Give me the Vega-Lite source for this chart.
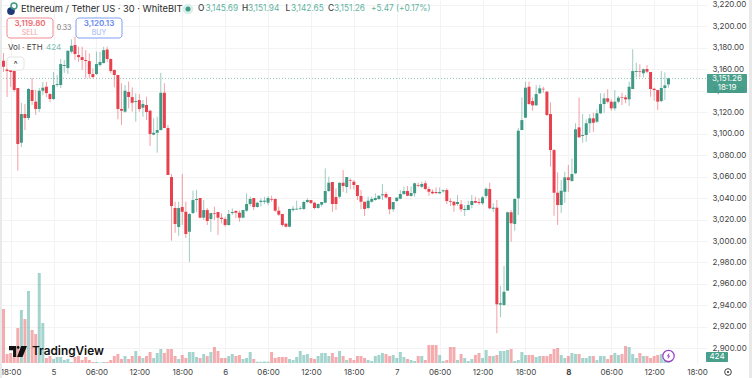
{"$schema":"https://vega.github.io/schema/vega-lite/v6.json","width":707,"height":363,"autosize":{"type":"none"},"padding":{"left":0,"top":0,"right":45,"bottom":15},"background":"white","config":{"view":{"stroke":null},"font":"Inter","text":{"font":"Inter"},"scale":{"continuousPadding":0}},
"datasets":{"ohlcv":[
{"t":"2025-11-04T17:00Z","o":3167.7,"h":3174.9,"l":3157.2,"c":3162.1,"v":5400},
{"t":"2025-11-04T17:30Z","o":3159.5,"h":3168.4,"l":3134,"c":3158.1,"v":900},
{"t":"2025-11-04T18:00Z","o":3159.1,"h":3160.9,"l":3143.2,"c":3157.2,"v":1000},
{"t":"2025-11-04T18:30Z","o":3158.1,"h":3160,"l":3139,"c":3140.5,"v":600},
{"t":"2025-11-04T19:00Z","o":3142.3,"h":3142.5,"l":3065.4,"c":3090.2,"v":3500},
{"t":"2025-11-04T19:30Z","o":3091.4,"h":3128.4,"l":3087.4,"c":3118.1,"v":5300},
{"t":"2025-11-04T20:00Z","o":3118.1,"h":3127.4,"l":3103.2,"c":3114.4,"v":4400},
{"t":"2025-11-04T20:30Z","o":3114.4,"h":3142.3,"l":3112.5,"c":3141.4,"v":7200},
{"t":"2025-11-04T21:00Z","o":3140.5,"h":3151.6,"l":3126.5,"c":3130.2,"v":3300},
{"t":"2025-11-04T21:30Z","o":3129.6,"h":3140.5,"l":3117.2,"c":3122.8,"v":2900},
{"t":"2025-11-04T22:00Z","o":3122.8,"h":3142.3,"l":3120,"c":3139.8,"v":9000},
{"t":"2025-11-04T22:30Z","o":3139.8,"h":3147.9,"l":3135.8,"c":3142.6,"v":4000},
{"t":"2025-11-04T23:00Z","o":3143.5,"h":3147.9,"l":3133.9,"c":3137.6,"v":500},
{"t":"2025-11-04T23:30Z","o":3136.7,"h":3137.6,"l":3129.3,"c":3132.1,"v":700},
{"t":"2025-11-05T00:00Z","o":3132.1,"h":3157.2,"l":3131.1,"c":3145.1,"v":400},
{"t":"2025-11-05T00:30Z","o":3145.1,"h":3154.4,"l":3143.2,"c":3146,"v":600},
{"t":"2025-11-05T01:00Z","o":3145.1,"h":3169.3,"l":3142.3,"c":3164.6,"v":600},
{"t":"2025-11-05T01:30Z","o":3162.8,"h":3168.4,"l":3156.3,"c":3163.7,"v":300},
{"t":"2025-11-05T02:00Z","o":3160.9,"h":3177,"l":3155.3,"c":3177,"v":400},
{"t":"2025-11-05T02:30Z","o":3176.1,"h":3187.6,"l":3174.6,"c":3181.6,"v":100},
{"t":"2025-11-05T03:00Z","o":3182.3,"h":3190,"l":3168.4,"c":3173.9,"v":600},
{"t":"2025-11-05T03:30Z","o":3173,"h":3180.7,"l":3166.7,"c":3171.1,"v":700},
{"t":"2025-11-05T04:00Z","o":3171.1,"h":3180.7,"l":3159.1,"c":3168.4,"v":300},
{"t":"2025-11-05T04:30Z","o":3168.4,"h":3177.6,"l":3151.3,"c":3167.4,"v":600},
{"t":"2025-11-05T05:00Z","o":3167.4,"h":3174.6,"l":3151.3,"c":3155.3,"v":300},
{"t":"2025-11-05T05:30Z","o":3155.3,"h":3160.6,"l":3151.3,"c":3152.5,"v":100},
{"t":"2025-11-05T06:00Z","o":3155.3,"h":3176.1,"l":3154.4,"c":3164.6,"v":100},
{"t":"2025-11-05T06:30Z","o":3163.7,"h":3176.1,"l":3162.1,"c":3166.5,"v":50},
{"t":"2025-11-05T07:00Z","o":3165.5,"h":3180.7,"l":3165.3,"c":3177.6,"v":100},
{"t":"2025-11-05T07:30Z","o":3178.1,"h":3180.7,"l":3166.7,"c":3169.3,"v":100},
{"t":"2025-11-05T08:00Z","o":3169.3,"h":3170,"l":3156,"c":3158.1,"v":300},
{"t":"2025-11-05T08:30Z","o":3159.1,"h":3159.7,"l":3142.9,"c":3154.4,"v":700},
{"t":"2025-11-05T09:00Z","o":3154.4,"h":3154.5,"l":3113.2,"c":3122.8,"v":900},
{"t":"2025-11-05T09:30Z","o":3122.8,"h":3146.7,"l":3107.9,"c":3121.2,"v":400},
{"t":"2025-11-05T10:00Z","o":3120.3,"h":3145.1,"l":3119.3,"c":3139.8,"v":700},
{"t":"2025-11-05T10:30Z","o":3138.6,"h":3148.2,"l":3123.4,"c":3133.9,"v":400},
{"t":"2025-11-05T11:00Z","o":3133.9,"h":3142.9,"l":3120.3,"c":3128.6,"v":700},
{"t":"2025-11-05T11:30Z","o":3129.3,"h":3137.4,"l":3111,"c":3130.2,"v":1200},
{"t":"2025-11-05T12:00Z","o":3131.1,"h":3136.7,"l":3120.3,"c":3122.8,"v":700},
{"t":"2025-11-05T12:30Z","o":3124,"h":3131.1,"l":3115.6,"c":3127.4,"v":500},
{"t":"2025-11-05T13:00Z","o":3126.5,"h":3134.2,"l":3112.5,"c":3120,"v":700},
{"t":"2025-11-05T13:30Z","o":3121.2,"h":3122,"l":3088.4,"c":3099.5,"v":1100},
{"t":"2025-11-05T14:00Z","o":3098.9,"h":3114.1,"l":3098.4,"c":3100.7,"v":500},
{"t":"2025-11-05T14:30Z","o":3100.7,"h":3115.6,"l":3082.1,"c":3103.2,"v":1000},
{"t":"2025-11-05T15:00Z","o":3103.2,"h":3156.5,"l":3103,"c":3137.9,"v":1400},
{"t":"2025-11-05T15:30Z","o":3137.9,"h":3146.7,"l":3105,"c":3105.1,"v":1000},
{"t":"2025-11-05T16:00Z","o":3105.1,"h":3107.9,"l":3061.4,"c":3061.4,"v":1400},
{"t":"2025-11-05T16:30Z","o":3059.5,"h":3062.3,"l":3000.3,"c":3032.5,"v":1400},
{"t":"2025-11-05T17:00Z","o":3030.7,"h":3036.5,"l":3007.7,"c":3015.8,"v":700},
{"t":"2025-11-05T17:30Z","o":3013,"h":3036.5,"l":3004.7,"c":3030.7,"v":400},
{"t":"2025-11-05T18:00Z","o":3031.6,"h":3062.3,"l":3014.9,"c":3027.2,"v":800},
{"t":"2025-11-05T18:30Z","o":3027.2,"h":3036.5,"l":3002.8,"c":3006.5,"v":500},
{"t":"2025-11-05T19:00Z","o":3008.6,"h":3026,"l":2980.7,"c":3025.1,"v":1100},
{"t":"2025-11-05T19:30Z","o":3026,"h":3046.8,"l":3025.1,"c":3038.1,"v":1100},
{"t":"2025-11-05T20:00Z","o":3038.1,"h":3047.4,"l":3027,"c":3039.1,"v":600},
{"t":"2025-11-05T20:30Z","o":3040,"h":3040,"l":3021.1,"c":3021.7,"v":500},
{"t":"2025-11-05T21:00Z","o":3021.7,"h":3038.1,"l":3019.5,"c":3028.8,"v":900},
{"t":"2025-11-05T21:30Z","o":3028.8,"h":3030.7,"l":3014.9,"c":3018.6,"v":700},
{"t":"2025-11-05T22:00Z","o":3020.5,"h":3026.3,"l":3008.6,"c":3026,"v":1100},
{"t":"2025-11-05T22:30Z","o":3026,"h":3031.9,"l":3019.5,"c":3025.4,"v":1600},
{"t":"2025-11-05T23:00Z","o":3027,"h":3027,"l":3005.6,"c":3021.7,"v":1200},
{"t":"2025-11-05T23:30Z","o":3021.7,"h":3025.8,"l":3016.5,"c":3020.5,"v":500},
{"t":"2025-11-06T00:00Z","o":3020.5,"h":3022.6,"l":3013.3,"c":3014.9,"v":500},
{"t":"2025-11-06T00:30Z","o":3014.9,"h":3028.8,"l":3014.2,"c":3025.1,"v":700},
{"t":"2025-11-06T01:00Z","o":3026,"h":3030.4,"l":3024.2,"c":3027,"v":900},
{"t":"2025-11-06T01:30Z","o":3027.9,"h":3028.8,"l":3021.1,"c":3026.3,"v":700},
{"t":"2025-11-06T02:00Z","o":3026.3,"h":3028.2,"l":3018,"c":3021.7,"v":800},
{"t":"2025-11-06T02:30Z","o":3021.7,"h":3028.8,"l":3021.1,"c":3028.8,"v":400},
{"t":"2025-11-06T03:00Z","o":3028.2,"h":3044.4,"l":3027.2,"c":3034.4,"v":500},
{"t":"2025-11-06T03:30Z","o":3034.4,"h":3041.2,"l":3032.6,"c":3039.1,"v":1100},
{"t":"2025-11-06T04:00Z","o":3040,"h":3040,"l":3028.8,"c":3031.6,"v":400},
{"t":"2025-11-06T04:30Z","o":3031.6,"h":3036.5,"l":3031,"c":3035.6,"v":130},
{"t":"2025-11-06T05:00Z","o":3036.3,"h":3039.7,"l":3031.9,"c":3037.5,"v":130},
{"t":"2025-11-06T05:30Z","o":3036.5,"h":3041.2,"l":3034.4,"c":3037.5,"v":150},
{"t":"2025-11-06T06:00Z","o":3035.6,"h":3041.9,"l":3033.5,"c":3040,"v":130},
{"t":"2025-11-06T06:30Z","o":3039.1,"h":3042.1,"l":3036.5,"c":3038.4,"v":1100},
{"t":"2025-11-06T07:00Z","o":3039.1,"h":3039.7,"l":3027.2,"c":3028.2,"v":500},
{"t":"2025-11-06T07:30Z","o":3028.2,"h":3031.9,"l":3023.3,"c":3024.5,"v":600},
{"t":"2025-11-06T08:00Z","o":3025.1,"h":3025.1,"l":3013.3,"c":3014.9,"v":600},
{"t":"2025-11-06T08:30Z","o":3016.1,"h":3016.5,"l":3012.7,"c":3013.3,"v":600},
{"t":"2025-11-06T09:00Z","o":3013.3,"h":3030,"l":3012.7,"c":3029.8,"v":400},
{"t":"2025-11-06T09:30Z","o":3028.8,"h":3032.6,"l":3027.2,"c":3030,"v":300},
{"t":"2025-11-06T10:00Z","o":3029.3,"h":3037.5,"l":3028.8,"c":3030,"v":600},
{"t":"2025-11-06T10:30Z","o":3029.8,"h":3032.6,"l":3028.8,"c":3030.4,"v":1200},
{"t":"2025-11-06T11:00Z","o":3029.8,"h":3037.5,"l":3028.8,"c":3036.3,"v":800},
{"t":"2025-11-06T11:30Z","o":3036.3,"h":3039.7,"l":3035.1,"c":3038.1,"v":900},
{"t":"2025-11-06T12:00Z","o":3038.1,"h":3038.1,"l":3034.4,"c":3035.3,"v":500},
{"t":"2025-11-06T12:30Z","o":3035.6,"h":3036.5,"l":3029.5,"c":3030.7,"v":400},
{"t":"2025-11-06T13:00Z","o":3030.7,"h":3035.1,"l":3030,"c":3034.4,"v":700},
{"t":"2025-11-06T13:30Z","o":3033.8,"h":3036.3,"l":3031.9,"c":3036.3,"v":1000},
{"t":"2025-11-06T14:00Z","o":3035.6,"h":3067.6,"l":3035.1,"c":3046.5,"v":1000},
{"t":"2025-11-06T14:30Z","o":3046.5,"h":3059.8,"l":3045.6,"c":3054.2,"v":700},
{"t":"2025-11-06T15:00Z","o":3054.9,"h":3054.9,"l":3027.2,"c":3034.4,"v":1000},
{"t":"2025-11-06T15:30Z","o":3040.9,"h":3049,"l":3028.8,"c":3034.4,"v":600},
{"t":"2025-11-06T16:00Z","o":3041.2,"h":3054.2,"l":3039.7,"c":3054.2,"v":1200},
{"t":"2025-11-06T16:30Z","o":3054.2,"h":3066,"l":3045.8,"c":3051.2,"v":700},
{"t":"2025-11-06T17:00Z","o":3050.2,"h":3059.5,"l":3044.6,"c":3059.5,"v":300},
{"t":"2025-11-06T17:30Z","o":3056.7,"h":3058.3,"l":3048,"c":3056.1,"v":500},
{"t":"2025-11-06T18:00Z","o":3055.1,"h":3056.7,"l":3048,"c":3052.1,"v":300},
{"t":"2025-11-06T18:30Z","o":3052.1,"h":3052.1,"l":3038.1,"c":3041.9,"v":700},
{"t":"2025-11-06T19:00Z","o":3041.9,"h":3047.4,"l":3029.5,"c":3036.5,"v":700},
{"t":"2025-11-06T19:30Z","o":3036.5,"h":3036.5,"l":3023.3,"c":3029.8,"v":500},
{"t":"2025-11-06T20:00Z","o":3030.7,"h":3041.2,"l":3029.5,"c":3037.5,"v":300},
{"t":"2025-11-06T20:30Z","o":3036.5,"h":3041.2,"l":3035.6,"c":3039.1,"v":200},
{"t":"2025-11-06T21:00Z","o":3038.1,"h":3044.4,"l":3037.5,"c":3040,"v":700},
{"t":"2025-11-06T21:30Z","o":3039.1,"h":3042.3,"l":3038.1,"c":3042.1,"v":800},
{"t":"2025-11-06T22:00Z","o":3042.5,"h":3053,"l":3038.1,"c":3043.4,"v":1000},
{"t":"2025-11-06T22:30Z","o":3043.7,"h":3045.8,"l":3039.7,"c":3040.6,"v":900},
{"t":"2025-11-06T23:00Z","o":3040.9,"h":3040.9,"l":3024.8,"c":3029.5,"v":700},
{"t":"2025-11-06T23:30Z","o":3029.5,"h":3036.3,"l":3027.2,"c":3036.3,"v":800},
{"t":"2025-11-07T00:00Z","o":3037.2,"h":3040.9,"l":3036.3,"c":3040.3,"v":500},
{"t":"2025-11-07T00:30Z","o":3039.3,"h":3047.4,"l":3038.8,"c":3043.7,"v":1100},
{"t":"2025-11-07T01:00Z","o":3043.7,"h":3050.5,"l":3042.8,"c":3046.5,"v":600},
{"t":"2025-11-07T01:30Z","o":3046.5,"h":3051.2,"l":3041.6,"c":3042.1,"v":400},
{"t":"2025-11-07T02:00Z","o":3041.9,"h":3050.5,"l":3041.2,"c":3044.6,"v":300},
{"t":"2025-11-07T02:30Z","o":3044.4,"h":3054.2,"l":3041.2,"c":3053.7,"v":200},
{"t":"2025-11-07T03:00Z","o":3052.1,"h":3054.2,"l":3049.9,"c":3051.4,"v":700},
{"t":"2025-11-07T03:30Z","o":3050.5,"h":3055.1,"l":3049,"c":3053,"v":700},
{"t":"2025-11-07T04:00Z","o":3053.7,"h":3056.1,"l":3047.4,"c":3048.4,"v":300},
{"t":"2025-11-07T04:30Z","o":3048.4,"h":3050.5,"l":3042.1,"c":3045.8,"v":1800},
{"t":"2025-11-07T05:00Z","o":3045.8,"h":3048,"l":3043.4,"c":3044.4,"v":1800},
{"t":"2025-11-07T05:30Z","o":3045.6,"h":3049.9,"l":3043.7,"c":3044.6,"v":1800},
{"t":"2025-11-07T06:00Z","o":3044.4,"h":3049.9,"l":3043.7,"c":3045.6,"v":800},
{"t":"2025-11-07T06:30Z","o":3046.2,"h":3048,"l":3044.9,"c":3047.2,"v":200},
{"t":"2025-11-07T07:00Z","o":3047.4,"h":3049,"l":3034.4,"c":3037.2,"v":300},
{"t":"2025-11-07T07:30Z","o":3037.2,"h":3039.7,"l":3032.6,"c":3036.5,"v":1600},
{"t":"2025-11-07T08:00Z","o":3036.5,"h":3037.2,"l":3027.2,"c":3033.2,"v":1600},
{"t":"2025-11-07T08:30Z","o":3034.4,"h":3042.8,"l":3032.6,"c":3036.3,"v":300},
{"t":"2025-11-07T09:00Z","o":3034.1,"h":3038.1,"l":3027.2,"c":3029.5,"v":900},
{"t":"2025-11-07T09:30Z","o":3028.8,"h":3033.5,"l":3023.3,"c":3029.8,"v":500},
{"t":"2025-11-07T10:00Z","o":3028.8,"h":3037.5,"l":3028.8,"c":3033.5,"v":200},
{"t":"2025-11-07T10:30Z","o":3033.5,"h":3042.8,"l":3030.4,"c":3037.2,"v":400},
{"t":"2025-11-07T11:00Z","o":3037.2,"h":3041.2,"l":3035.1,"c":3035.6,"v":800},
{"t":"2025-11-07T11:30Z","o":3036.3,"h":3039.7,"l":3033.5,"c":3035.3,"v":1000},
{"t":"2025-11-07T12:00Z","o":3035.1,"h":3041.9,"l":3033.5,"c":3040.6,"v":500},
{"t":"2025-11-07T12:30Z","o":3041.9,"h":3049.9,"l":3039.7,"c":3048.6,"v":1300},
{"t":"2025-11-07T13:00Z","o":3048.4,"h":3054.2,"l":3029.5,"c":3030.4,"v":700},
{"t":"2025-11-07T13:30Z","o":3030,"h":3035.1,"l":3027.2,"c":3031,"v":700},
{"t":"2025-11-07T14:00Z","o":3031,"h":3038.1,"l":2914.2,"c":2941.1,"v":800},
{"t":"2025-11-07T14:30Z","o":2940.8,"h":2958.2,"l":2929,"c":2942.1,"v":1200},
{"t":"2025-11-07T15:00Z","o":2940.5,"h":2976.8,"l":2939.5,"c":2952.8,"v":1200},
{"t":"2025-11-07T15:30Z","o":2953.8,"h":3027.2,"l":2953.8,"c":3026.7,"v":1300},
{"t":"2025-11-07T16:00Z","o":3026.7,"h":3028.8,"l":2999.3,"c":3016.5,"v":1400},
{"t":"2025-11-07T16:30Z","o":3015.8,"h":3040,"l":3009.6,"c":3039.1,"v":200},
{"t":"2025-11-07T17:00Z","o":3039.7,"h":3105.1,"l":3024.2,"c":3102.6,"v":300},
{"t":"2025-11-07T17:30Z","o":3103.2,"h":3133.6,"l":3103.2,"c":3112.5,"v":1100},
{"t":"2025-11-07T18:00Z","o":3114.7,"h":3148.2,"l":3114.4,"c":3142.6,"v":800},
{"t":"2025-11-07T18:30Z","o":3143.5,"h":3148.2,"l":3126.8,"c":3127.4,"v":800},
{"t":"2025-11-07T19:00Z","o":3130.2,"h":3133.6,"l":3121.2,"c":3126.2,"v":800},
{"t":"2025-11-07T19:30Z","o":3126.2,"h":3145.1,"l":3125.8,"c":3136.7,"v":600},
{"t":"2025-11-07T20:00Z","o":3137.4,"h":3145.1,"l":3136.7,"c":3142,"v":700},
{"t":"2025-11-07T20:30Z","o":3141.6,"h":3143.5,"l":3137.9,"c":3141.1,"v":700},
{"t":"2025-11-07T21:00Z","o":3138.9,"h":3139.5,"l":3116.3,"c":3117.2,"v":700},
{"t":"2025-11-07T21:30Z","o":3118.1,"h":3129,"l":3069.1,"c":3084.6,"v":900},
{"t":"2025-11-07T22:00Z","o":3084.6,"h":3085.6,"l":3023.5,"c":3044.9,"v":1400},
{"t":"2025-11-07T22:30Z","o":3044.9,"h":3063.9,"l":3014.9,"c":3033.5,"v":1500},
{"t":"2025-11-07T23:00Z","o":3033.5,"h":3056.7,"l":3026,"c":3046.8,"v":800},
{"t":"2025-11-07T23:30Z","o":3045.8,"h":3064.4,"l":3035.3,"c":3059.2,"v":500},
{"t":"2025-11-08T00:00Z","o":3059.2,"h":3070.7,"l":3045.8,"c":3056.7,"v":700},
{"t":"2025-11-08T00:30Z","o":3055.8,"h":3076.9,"l":3055.1,"c":3062.3,"v":1000},
{"t":"2025-11-08T01:00Z","o":3063,"h":3109.5,"l":3062,"c":3103.9,"v":900},
{"t":"2025-11-08T01:30Z","o":3105.7,"h":3133.6,"l":3096.4,"c":3096.4,"v":900},
{"t":"2025-11-08T02:00Z","o":3097.7,"h":3118.1,"l":3091.4,"c":3098.6,"v":500},
{"t":"2025-11-08T02:30Z","o":3098.6,"h":3113.2,"l":3092.3,"c":3109.5,"v":500},
{"t":"2025-11-08T03:00Z","o":3109.5,"h":3118.1,"l":3100.7,"c":3114.1,"v":700},
{"t":"2025-11-08T03:30Z","o":3114.1,"h":3119.3,"l":3101.6,"c":3110,"v":700},
{"t":"2025-11-08T04:00Z","o":3111,"h":3122.5,"l":3109.5,"c":3118.8,"v":300},
{"t":"2025-11-08T04:30Z","o":3118.8,"h":3137.4,"l":3118.1,"c":3127.4,"v":700},
{"t":"2025-11-08T05:00Z","o":3127.4,"h":3137.4,"l":3119.3,"c":3132.7,"v":700},
{"t":"2025-11-08T05:30Z","o":3132.7,"h":3141.1,"l":3128.1,"c":3129.6,"v":400},
{"t":"2025-11-08T06:00Z","o":3129.6,"h":3131.8,"l":3121.2,"c":3123.4,"v":800},
{"t":"2025-11-08T06:30Z","o":3123.4,"h":3140.5,"l":3121.2,"c":3129.6,"v":1000},
{"t":"2025-11-08T07:00Z","o":3129.6,"h":3134.9,"l":3128.1,"c":3133.3,"v":800},
{"t":"2025-11-08T07:30Z","o":3133.6,"h":3137.9,"l":3126.5,"c":3133,"v":900},
{"t":"2025-11-08T08:00Z","o":3133.6,"h":3135.8,"l":3128.1,"c":3131.8,"v":1700},
{"t":"2025-11-08T08:30Z","o":3131.8,"h":3148.2,"l":3125.6,"c":3143.5,"v":1600},
{"t":"2025-11-08T09:00Z","o":3141.4,"h":3178.3,"l":3141.4,"c":3158.1,"v":900},
{"t":"2025-11-08T09:30Z","o":3157.2,"h":3165.8,"l":3152.2,"c":3158.1,"v":500},
{"t":"2025-11-08T10:00Z","o":3157.8,"h":3164.3,"l":3152.2,"c":3157.2,"v":1000},
{"t":"2025-11-08T10:30Z","o":3156,"h":3160.6,"l":3152.2,"c":3159.7,"v":700},
{"t":"2025-11-08T11:00Z","o":3160,"h":3163.7,"l":3156,"c":3157.5,"v":700},
{"t":"2025-11-08T11:30Z","o":3157.2,"h":3157.2,"l":3134.2,"c":3141.4,"v":500},
{"t":"2025-11-08T12:00Z","o":3141.6,"h":3142.6,"l":3130.5,"c":3140.4,"v":700},
{"t":"2025-11-08T12:30Z","o":3140.4,"h":3140.4,"l":3121.8,"c":3129.6,"v":800},
{"t":"2025-11-08T13:00Z","o":3130.2,"h":3158.1,"l":3129,"c":3142.3,"v":900},
{"t":"2025-11-08T13:30Z","o":3142.3,"h":3156.9,"l":3131.1,"c":3144.8,"v":800},
{"t":"2025-11-08T14:00Z","o":3145.69,"h":3151.94,"l":3142.65,"c":3151.26,"v":424}
]},
"resolve":{"scale":{"y":"independent"}},
"layer":[
{"data":{"name":"ohlcv"},"mark":{"type":"bar","width":3,"opacity":0.5},
"encoding":{"x":{"field":"t","type":"temporal","scale":{"type":"utc","nice":false,"padding":0,"domain":[1762273837760,1762629809788]},"title":null,
"axis":{"values":[1762279200000,1762300800000,1762322400000,1762344000000,1762365600000,1762387200000,1762408800000,1762430400000,1762452000000,1762473600000,1762495200000,1762516800000,1762538400000,1762560000000,1762581600000,1762603200000,1762624800000],"grid":true,"gridColor":"#f3f3f3","domain":false,"ticks":false,"labelFont":"Inter","labelFontSize":8,"labelColor":"#444444","labelPadding":5,"labelOverlap":false,"labelFlush":false,"labelFontWeight":{"condition":{"test":"utcdate(datum.value)==8 && utchours(datum.value)==0","value":"bold"},"value":"normal"},"labelExpr":"utchours(datum.value)==0 ? utcFormat(datum.value,'%-d') : utcFormat(datum.value,'%H:%M')"}},
"y":{"field":"v","type":"quantitative","scale":{"domain":[0,36300]},"axis":null},
"color":{"condition":{"test":"datum.c>=datum.o","value":"#49a99b"},"value":"#ea5a5f"}}},
{"data":{"name":"ohlcv"},"mark":{"type":"rule","strokeWidth":1,"opacity":0.5},
"encoding":{"x":{"field":"t","type":"temporal","scale":{"type":"utc","nice":false,"padding":0,"domain":[1762273837760,1762629809788]}},
"y":{"field":"l","type":"quantitative","scale":{"domain":[2886.51,3224.19],"nice":false,"zero":false},"title":null,"axis":{"orient":"right","values":[2900,2920,2940,2960,2980,3000,3020,3040,3060,3080,3100,3120,3140,3160,3180,3200,3220],"format":",.2f","grid":true,"gridColor":"#f3f3f3","domain":false,"ticks":false,"labelFont":"Inter","labelFontSize":8,"labelColor":"#444444","labelPadding":5,"labelOverlap":false}},
"y2":{"field":"h"},
"color":{"condition":{"test":"datum.c>=datum.o","value":"#3f9a85"},"value":"#e8414d"}}},
{"data":{"name":"ohlcv"},"mark":{"type":"bar","width":3},
"encoding":{"x":{"field":"t","type":"temporal","scale":{"type":"utc","nice":false,"padding":0,"domain":[1762273837760,1762629809788]}},"y":{"field":"o","type":"quantitative","scale":{"domain":[2886.51,3224.19],"nice":false,"zero":false},"axis":null},"y2":{"field":"c"},
"color":{"condition":{"test":"datum.c>=datum.o","value":"#3f9a85"},"value":"#e8414d"}}},
{"data":{"values":[{"price":3151.26,"a":1762273837760,"b":1762629809788}]},"mark":{"type":"rule","stroke":"#3f9a85","strokeDash":[1,2],"strokeWidth":1,"opacity":0.6},"encoding":{"y":{"field":"price","type":"quantitative","scale":{"domain":[2886.51,3224.19],"nice":false,"zero":false},"axis":null},"x":{"field":"a","type":"temporal","scale":{"type":"utc","nice":false,"padding":0,"domain":[1762273837760,1762629809788]}},"x2":{"field":"b"}}},
{"data":{"values":[{"y1":3224.19,"y2":2872.56,"a":1762273837760,"b":1762274844753},{"y1":3224.19,"y2":2872.56,"a":1762650956639,"b":1762652467128}]},"mark":{"type":"rect","fill":"#e9e9e9"},"encoding":{"x":{"field":"a","type":"temporal","scale":{"type":"utc","nice":false,"padding":0,"domain":[1762273837760,1762629809788]}},"x2":{"field":"b"},"y":{"field":"y1","type":"quantitative","scale":{"domain":[2886.51,3224.19],"nice":false,"zero":false},"axis":null},"y2":{"field":"y2"}}},
{"data":{"values":[{"a":1762277362236,"b":1762300523075,"y1":3207.44,"y2":3188.84,"k":"#ef8a8f"},{"a":1762312103494,"b":1762335264333,"y1":3207.44,"y2":3188.84,"k":"#7f9ff5"},{"a":1762277362236,"b":1762285921676,"y1":3171.16,"y2":3159.07,"k":"#e4e4e4"}]},"mark":{"type":"rect","fill":"white","strokeWidth":1,"cornerRadius":3},"encoding":{"x":{"field":"a","type":"temporal","scale":{"type":"utc","nice":false,"padding":0,"domain":[1762273837760,1762629809788]}},"x2":{"field":"b"},"y":{"field":"y1","type":"quantitative","scale":{"domain":[2886.51,3224.19],"nice":false,"zero":false},"axis":null},"y2":{"field":"y2"},"stroke":{"field":"k","type":"nominal","scale":null}}},
{"data":{"values":[{"a":1762629809788,"b":1762649949646,"y1":3155.35,"y2":3137.67},{"a":1762629306289,"b":1762640383212,"y1":2896.74,"y2":2887.44}]},"mark":{"type":"rect","fill":"#3f9a85","opacity":0.95,"cornerRadius":1},"encoding":{"x":{"field":"a","type":"temporal","scale":{"type":"utc","nice":false,"padding":0,"domain":[1762273837760,1762629809788]}},"x2":{"field":"b"},"y":{"field":"y1","type":"quantitative","scale":{"domain":[2886.51,3224.19],"nice":false,"zero":false},"axis":null},"y2":{"field":"y2"}}},
{"data":{"values":[{"a":1762284411187,"p":3215.81,"s":"Ethereum / Tether US · 30 · WhiteBIT"}]},"mark":{"type":"text","align":"left","baseline":"middle","fontSize":9.3,"fill":"#2b2b2b"},"encoding":{"x":{"field":"a","type":"temporal","scale":{"type":"utc","nice":false,"padding":0,"domain":[1762273837760,1762629809788]}},"y":{"field":"p","type":"quantitative","scale":{"domain":[2886.51,3224.19],"nice":false,"zero":false},"axis":null},"text":{"field":"s"}}},
{"data":{"values":[{"a":1762373530067,"p":3215.81,"s":"O"},{"a":1762395683913,"p":3215.81,"s":"H"},{"a":1762417586010,"p":3215.81,"s":"L"},{"a":1762438984612,"p":3215.81,"s":"C"}]},"mark":{"type":"text","align":"left","baseline":"middle","fontSize":8.3,"fontWeight":500,"fill":"#444444"},"encoding":{"x":{"field":"a","type":"temporal","scale":{"type":"utc","nice":false,"padding":0,"domain":[1762273837760,1762629809788]}},"y":{"field":"p","type":"quantitative","scale":{"domain":[2886.51,3224.19],"nice":false,"zero":false},"axis":null},"text":{"field":"s"}}},
{"data":{"values":[{"a":1762377306291,"p":3215.81,"s":"3,145.69"},{"a":1762398704892,"p":3215.81,"s":"3,151.94"},{"a":1762420355242,"p":3215.81,"s":"3,142.65"},{"a":1762442005591,"p":3215.81,"s":"3,151.26"},{"a":1762460634962,"p":3215.81,"s":"+5.47"},{"a":1762473222374,"p":3215.81,"s":"(+0.17%)"}]},"mark":{"type":"text","align":"left","baseline":"middle","fontSize":8.3,"fill":"#5fb3a1"},"encoding":{"x":{"field":"a","type":"temporal","scale":{"type":"utc","nice":false,"padding":0,"domain":[1762273837760,1762629809788]}},"y":{"field":"p","type":"quantitative","scale":{"domain":[2886.51,3224.19],"nice":false,"zero":false},"axis":null},"text":{"field":"s"}}},
{"data":{"values":[{"a":1762288942655,"p":3201.86,"s":"3,119.80"}]},"mark":{"type":"text","align":"center","baseline":"middle","fontSize":8,"fontWeight":600,"fill":"#ee6a70"},"encoding":{"x":{"field":"a","type":"temporal","scale":{"type":"utc","nice":false,"padding":0,"domain":[1762273837760,1762629809788]}},"y":{"field":"p","type":"quantitative","scale":{"domain":[2886.51,3224.19],"nice":false,"zero":false},"axis":null},"text":{"field":"s"}}},
{"data":{"values":[{"a":1762288942655,"p":3193.49,"s":"SELL"}]},"mark":{"type":"text","align":"center","baseline":"middle","fontSize":7,"fill":"#f2a0a4"},"encoding":{"x":{"field":"a","type":"temporal","scale":{"type":"utc","nice":false,"padding":0,"domain":[1762273837760,1762629809788]}},"y":{"field":"p","type":"quantitative","scale":{"domain":[2886.51,3224.19],"nice":false,"zero":false},"axis":null},"text":{"field":"s"}}},
{"data":{"values":[{"a":1762306061536,"p":3198.14,"s":"0.33"}]},"mark":{"type":"text","align":"center","baseline":"middle","fontSize":7,"fill":"#777777"},"encoding":{"x":{"field":"a","type":"temporal","scale":{"type":"utc","nice":false,"padding":0,"domain":[1762273837760,1762629809788]}},"y":{"field":"p","type":"quantitative","scale":{"domain":[2886.51,3224.19],"nice":false,"zero":false},"axis":null},"text":{"field":"s"}}},
{"data":{"values":[{"a":1762323683914,"p":3201.86,"s":"3,120.13"}]},"mark":{"type":"text","align":"center","baseline":"middle","fontSize":8,"fontWeight":600,"fill":"#6688ee"},"encoding":{"x":{"field":"a","type":"temporal","scale":{"type":"utc","nice":false,"padding":0,"domain":[1762273837760,1762629809788]}},"y":{"field":"p","type":"quantitative","scale":{"domain":[2886.51,3224.19],"nice":false,"zero":false},"axis":null},"text":{"field":"s"}}},
{"data":{"values":[{"a":1762323683914,"p":3193.49,"s":"BUY"}]},"mark":{"type":"text","align":"center","baseline":"middle","fontSize":7,"fill":"#9db4f5"},"encoding":{"x":{"field":"a","type":"temporal","scale":{"type":"utc","nice":false,"padding":0,"domain":[1762273837760,1762629809788]}},"y":{"field":"p","type":"quantitative","scale":{"domain":[2886.51,3224.19],"nice":false,"zero":false},"axis":null},"text":{"field":"s"}}},
{"data":{"values":[{"a":1762277865732,"p":3179.53,"s":"Vol · ETH"}]},"mark":{"type":"text","align":"left","baseline":"middle","fontSize":8,"fill":"#444444"},"encoding":{"x":{"field":"a","type":"temporal","scale":{"type":"utc","nice":false,"padding":0,"domain":[1762273837760,1762629809788]}},"y":{"field":"p","type":"quantitative","scale":{"domain":[2886.51,3224.19],"nice":false,"zero":false},"axis":null},"text":{"field":"s"}}},
{"data":{"values":[{"a":1762296998599,"p":3179.53,"s":"424"}]},"mark":{"type":"text","align":"left","baseline":"middle","fontSize":8,"fill":"#7cc0b2"},"encoding":{"x":{"field":"a","type":"temporal","scale":{"type":"utc","nice":false,"padding":0,"domain":[1762273837760,1762629809788]}},"y":{"field":"p","type":"quantitative","scale":{"domain":[2886.51,3224.19],"nice":false,"zero":false},"axis":null},"text":{"field":"s"}}},
{"data":{"values":[{"a":1762281641956,"p":3165.12,"s":"^"}]},"mark":{"type":"text","align":"center","baseline":"middle","fontSize":9,"dy":1,"fill":"#333333"},"encoding":{"x":{"field":"a","type":"temporal","scale":{"type":"utc","nice":false,"padding":0,"domain":[1762273837760,1762629809788]}},"y":{"field":"p","type":"quantitative","scale":{"domain":[2886.51,3224.19],"nice":false,"zero":false},"axis":null},"text":{"field":"s"}}},
{"data":{"values":[{"a":1762289949648,"p":2897.21,"s":"TradingView"}]},"mark":{"type":"text","align":"left","baseline":"middle","fontSize":11.8,"fontWeight":600,"fill":"#111111"},"encoding":{"x":{"field":"a","type":"temporal","scale":{"type":"utc","nice":false,"padding":0,"domain":[1762273837760,1762629809788]}},"y":{"field":"p","type":"quantitative","scale":{"domain":[2886.51,3224.19],"nice":false,"zero":false},"axis":null},"text":{"field":"s"}}},
{"data":{"values":[{"a":1762634844751,"p":2892.09,"s":"424"},{"a":1762639879716,"p":3142.33,"s":"18:19"}]},"mark":{"type":"text","align":"center","baseline":"middle","fontSize":8,"fill":"white"},"encoding":{"x":{"field":"a","type":"temporal","scale":{"type":"utc","nice":false,"padding":0,"domain":[1762273837760,1762629809788]}},"y":{"field":"p","type":"quantitative","scale":{"domain":[2886.51,3224.19],"nice":false,"zero":false},"axis":null},"text":{"field":"s"}}},
{"data":{"values":[{"a":1762639879716,"p":3150.7,"s":"3,151.26"}]},"mark":{"type":"text","align":"center","baseline":"middle","fontSize":8,"fill":"white"},"encoding":{"x":{"field":"a","type":"temporal","scale":{"type":"utc","nice":false,"padding":0,"domain":[1762273837760,1762629809788]}},"y":{"field":"p","type":"quantitative","scale":{"domain":[2886.51,3224.19],"nice":false,"zero":false},"axis":null},"text":{"field":"s"}}},
{"data":{"values":[{"a":1762279376222,"p":3213.95}]},"mark":{"type":"point","filled":true,"fill":"#1f3a7a","opacity":1,"size":60},"encoding":{"x":{"field":"a","type":"temporal","scale":{"type":"utc","nice":false,"padding":0,"domain":[1762273837760,1762629809788]}},"y":{"field":"p","type":"quantitative","scale":{"domain":[2886.51,3224.19],"nice":false,"zero":false},"axis":null}}},
{"data":{"values":[{"a":1762280886711,"p":3218.6}]},"mark":{"type":"point","filled":false,"stroke":"#3f9a85","strokeWidth":1.5,"opacity":1,"size":35},"encoding":{"x":{"field":"a","type":"temporal","scale":{"type":"utc","nice":false,"padding":0,"domain":[1762273837760,1762629809788]}},"y":{"field":"p","type":"quantitative","scale":{"domain":[2886.51,3224.19],"nice":false,"zero":false},"axis":null}}},
{"data":{"values":[{"a":1762368495102,"p":3215.81}]},"mark":{"type":"point","filled":true,"fill":"#d9efe9","opacity":1,"size":110},"encoding":{"x":{"field":"a","type":"temporal","scale":{"type":"utc","nice":false,"padding":0,"domain":[1762273837760,1762629809788]}},"y":{"field":"p","type":"quantitative","scale":{"domain":[2886.51,3224.19],"nice":false,"zero":false},"axis":null}}},
{"data":{"values":[{"a":1762368495102,"p":3215.81}]},"mark":{"type":"point","filled":true,"fill":"#3f9a85","opacity":1,"size":25},"encoding":{"x":{"field":"a","type":"temporal","scale":{"type":"utc","nice":false,"padding":0,"domain":[1762273837760,1762629809788]}},"y":{"field":"p","type":"quantitative","scale":{"domain":[2886.51,3224.19],"nice":false,"zero":false},"axis":null}}},
{"data":{"values":[{"a":1762282900697,"p":2897.21}]},"mark":{"type":"point","filled":true,"fill":"#111111","opacity":1,"size":324,"shape":"M-1 -0.6H-0.2V0.6H-0.55V-0.15H-1ZM0.02 -0.6A0.14 0.14 0 1 1 0.02 -0.3A0.14 0.14 0 1 1 0.02 -0.6ZM0.35 -0.6H1L0.5 0.6H-0.1Z"},"encoding":{"x":{"field":"a","type":"temporal","scale":{"type":"utc","nice":false,"padding":0,"domain":[1762273837760,1762629809788]}},"y":{"field":"p","type":"quantitative","scale":{"domain":[2886.51,3224.19],"nice":false,"zero":false},"axis":null}}},
{"data":{"values":[{"a":1762610425170,"p":2893.02}]},"mark":{"type":"point","filled":true,"fill":"white","stroke":"#9b3fc4","strokeWidth":1.2,"opacity":1,"size":130},"encoding":{"x":{"field":"a","type":"temporal","scale":{"type":"utc","nice":false,"padding":0,"domain":[1762273837760,1762629809788]}},"y":{"field":"p","type":"quantitative","scale":{"domain":[2886.51,3224.19],"nice":false,"zero":false},"axis":null}}},
{"data":{"values":[{"a":1762610425170,"p":2893.02}]},"mark":{"type":"point","filled":true,"fill":"#9b3fc4","opacity":1,"size":49,"shape":"M0.25 -0.9L-0.5 0.1H-0.05L-0.25 0.9L0.5 -0.1H0.05Z"},"encoding":{"x":{"field":"a","type":"temporal","scale":{"type":"utc","nice":false,"padding":0,"domain":[1762273837760,1762629809788]}},"y":{"field":"p","type":"quantitative","scale":{"domain":[2886.51,3224.19],"nice":false,"zero":false},"axis":null}}},
{"data":{"values":[{"a":1762640383212,"p":2878.14}]},"mark":{"type":"point","filled":false,"stroke":"#444444","strokeWidth":1,"opacity":1,"size":45},"encoding":{"x":{"field":"a","type":"temporal","scale":{"type":"utc","nice":false,"padding":0,"domain":[1762273837760,1762629809788]}},"y":{"field":"p","type":"quantitative","scale":{"domain":[2886.51,3224.19],"nice":false,"zero":false},"axis":null}}},
{"data":{"values":[{"a":1762640383212,"p":2878.14}]},"mark":{"type":"point","filled":true,"fill":"#444444","opacity":1,"size":5},"encoding":{"x":{"field":"a","type":"temporal","scale":{"type":"utc","nice":false,"padding":0,"domain":[1762273837760,1762629809788]}},"y":{"field":"p","type":"quantitative","scale":{"domain":[2886.51,3224.19],"nice":false,"zero":false},"axis":null}}}
]}
